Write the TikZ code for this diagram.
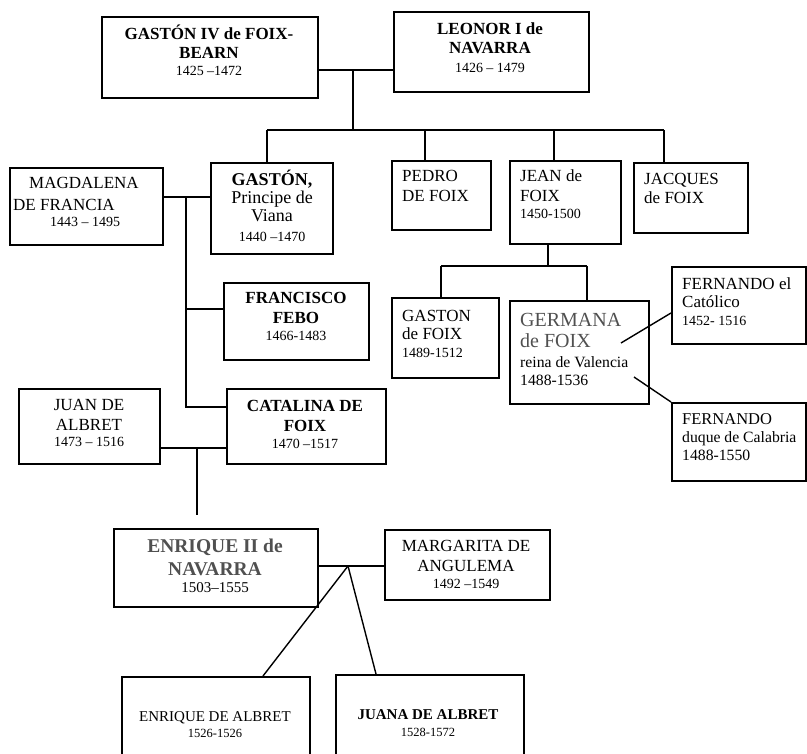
\documentclass[tikz,border=0pt]{standalone}
\usepackage{fontspec}
\setmainfont{Liberation Serif}
\definecolor{namegray}{HTML}{505050}
\newcommand{\namesize}{\fontsize{17}{19}\selectfont}
\newcommand{\datesize}{\fontsize{14}{17}\selectfont}

\begin{document}
\begin{tikzpicture}[x=1pt,y=-1pt,
    box/.style={draw, line width=1.6pt, rectangle, inner sep=0pt, anchor=north west},
    txt/.style={inner sep=0pt, align=center, anchor=north, font=\namesize},
    ltxt/.style={inner sep=0pt, align=left, anchor=north west, font=\namesize},
    link/.style={line width=1.4pt}]
    \useasboundingbox (0,0) rectangle (807,754);
    \clip (0,0) rectangle (807,754);

    % boxes
    \node[box, minimum width=216, minimum height=81] (g4) at (101,16) {};
    \node[box, minimum width=195, minimum height=80] (leonor) at (393,11) {};
    \node[box, minimum width=153, minimum height=77] (magdalena) at (9,167) {};
    \node[box, minimum width=122, minimum height=91] (gaston) at (210,162) {};
    \node[box, minimum width=99, minimum height=69] (pedro) at (391,160) {};
    \node[box, minimum width=111, minimum height=83] (jean) at (509,160) {};
    \node[box, minimum width=114, minimum height=70] (jacques) at (633,162) {};
    \node[box, minimum width=145, minimum height=77] (francisco) at (223,282) {};
    \node[box, minimum width=107, minimum height=80] (gastonf) at (391,297) {};
    \node[box, minimum width=139, minimum height=103] (germana) at (509,300) {};
    \node[box, minimum width=134, minimum height=77] (fcat) at (671,266) {};
    \node[box, minimum width=134, minimum height=78] (fduque) at (671,402) {};
    \node[box, minimum width=159, minimum height=75] (catalina) at (226,388) {};
    \node[box, minimum width=141, minimum height=75] (juan) at (18,388) {};
    \node[box, minimum width=204, minimum height=78] (enrique) at (113,528) {};
    \node[box, minimum width=165, minimum height=70] (margarita) at (384,529) {};
    \node[box, minimum width=188, minimum height=110] (enriquea) at (121,676) {};
    \node[box, minimum width=188, minimum height=110] (juana) at (335,674) {};

    % texts
    \node[txt, font=\namesize\bfseries] (g4-t) at (209,25)
        {GASTÓN IV de FOIX-\\BEARN\\[-2pt]{\datesize\mdseries 1425 –1472}};
    \node[txt, font=\namesize\bfseries] (leonor-t) at (490,23)
        {LEONOR I de\\NAVARRA\\{\datesize\mdseries 1426 – 1479}};
    \node[ltxt] (magdalena-t) at (13,177)
        {\hspace*{16pt}MAGDALENA\\[3pt]DE FRANCIA\\[-3pt]\hspace*{37pt}{\datesize 1443 – 1495}};
    \node[txt, font=\fontsize{18}{18}\selectfont] (gaston-t) at (272,170)
        {\textbf{GASTÓN,}\\Principe de\\Viana\\[2pt]{\datesize 1440 –1470}};
    \node[ltxt, font=\fontsize{17}{20}\selectfont] (pedro-t) at (402,170) {PEDRO\\DE FOIX};
    \node[ltxt, font=\fontsize{17}{20}\selectfont] (jean-t) at (520,170)
        {JEAN de\\FOIX\\[-3pt]{\datesize 1450-1500}};
    \node[ltxt] (jacques-t) at (644,173) {JACQUES\\de FOIX};
    \node[txt, font=\fontsize{17}{20}\selectfont\bfseries] (francisco-t) at (296,292)
        {FRANCISCO\\FEBO\\[-3pt]{\datesize\mdseries 1466-1483}};
    \node[ltxt, font=\fontsize{17}{18}\selectfont] (gastonf-t) at (402,310)
        {GASTON\\de FOIX\\{\datesize 1489-1512}};
    \node[ltxt, font=\fontsize{20}{21}\selectfont] (germana-t) at (520,313)
        {{\color{namegray}GERMANA}\\{\color{namegray}de FOIX}\\[-1pt]{\fontsize{15.7}{18}\selectfont reina de Valencia}\\[-3pt]{\fontsize{15.7}{18}\selectfont 1488-1536}};
    \node[ltxt, font=\fontsize{17}{18}\selectfont] (fcat-t) at (682,278)
        {FERNANDO el\\Católico\\{\datesize 1452- 1516}};
    \node[ltxt, font=\fontsize{16.5}{18}\selectfont] (fduque-t) at (682,413)
        {FERNANDO\\{\fontsize{15.7}{18}\selectfont duque de Calabria}\\{\fontsize{15.7}{18}\selectfont 1488-1550}};
    \node[txt, font=\fontsize{17}{20}\selectfont\bfseries] (catalina-t) at (305,400)
        {CATALINA DE\\FOIX\\[-3pt]{\datesize\mdseries 1470 –1517}};
    \node[txt, font=\fontsize{17}{20}\selectfont] (juan-t) at (89,399)
        {JUAN DE\\ALBRET\\[-4pt]{\datesize 1473 – 1516}};
    \node[txt, font=\fontsize{19.5}{23}\selectfont\bfseries, text=namegray] (enrique-t) at (215,539)
        {ENRIQUE II de\\NAVARRA\\[-6pt]{\fontsize{15}{17}\selectfont\mdseries\color{black}1503–1555}};
    \node[txt, font=\fontsize{17}{20}\selectfont] (margarita-t) at (466,540)
        {MARGARITA DE\\ANGULEMA\\[-3pt]{\datesize 1492 –1549}};
    \node[txt, font=\fontsize{15}{16}\selectfont] (enriquea-t) at (215,711)
        {ENRIQUE DE ALBRET\\{\fontsize{12.5}{15}\selectfont 1526-1526}};
    \node[txt, font=\fontsize{15}{17}\selectfont\bfseries] (juana-t) at (428,709)
        {JUANA DE ALBRET\\{\fontsize{12.5}{15}\selectfont\mdseries 1528-1572}};

    % junctions
    \coordinate (m1) at (353,70);
    \coordinate (sibL) at (267,130);
    \coordinate (sibR) at (664,130);
    \coordinate (dp) at (425,130);
    \coordinate (dj) at (554,130);
    \coordinate (m2) at (186,197);
    \coordinate (m2f) at (186,309);
    \coordinate (m2b) at (186,407);
    \coordinate (jd) at (548,266);
    \coordinate (jL) at (441,266);
    \coordinate (jR) at (587,266);
    \coordinate (g1) at (621,343);
    \coordinate (g2) at (634,377);
    \coordinate (m3) at (197,448);
    \coordinate (m3b) at (197,515);
    \coordinate (m4) at (348,566);

    % lines
    \draw[link] (g4.east |- m1) -- (leonor.west |- m1);
    \draw[link] (m1) -- (m1 |- sibL);
    \draw[link] (sibL) -- (sibR);
    \draw[link] (sibL) -- (sibL |- gaston.north);
    \draw[link] (dp) -- (dp |- pedro.north);
    \draw[link] (dj) -- (dj |- jean.north);
    \draw[link] (sibR) -- (sibR |- jacques.north);

    \draw[link] (magdalena.east |- m2) -- (gaston.west |- m2);
    \draw[link] (m2) -- (m2b) -- (catalina.west |- m2b);
    \draw[link] (m2f) -- (francisco.west |- m2f);

    \draw[link] (jean.south -| jd) -- (jd);
    \draw[link] (jL) -- (jR);
    \draw[link] (jL) -- (jL |- gastonf.north);
    \draw[link] (jR) -- (jR |- germana.north);
    \draw[link] (g1) -- (fcat.west |- 0,313);
    \draw[link] (g2) -- (fduque.north west);

    \draw[link] (juan.east |- m3) -- (catalina.west |- m3);
    \draw[link] (m3) -- (m3b);

    \draw[link] (enrique.east |- m4) -- (margarita.west |- m4);
    \draw[link] (m4) -- (enriquea.north -| 263,0);
    \draw[link] (m4) -- (juana.north -| 376,0);
\end{tikzpicture}
\end{document}
